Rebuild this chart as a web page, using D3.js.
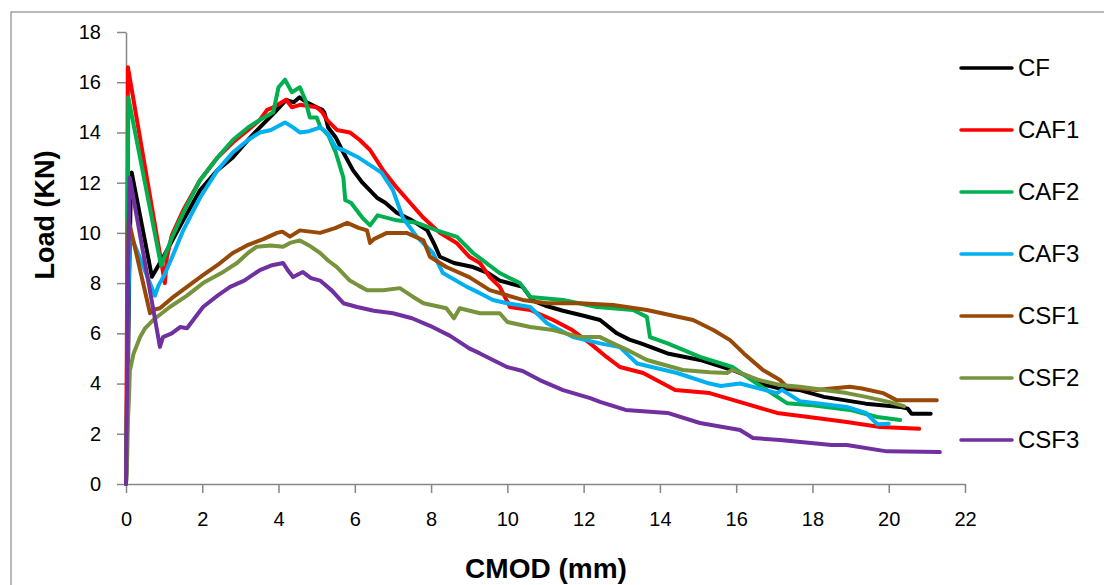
<!DOCTYPE html>
<html>
<head>
<meta charset="utf-8">
<script src="https://cdn.jsdelivr.net/npm/d3@7"></script>
<style>
  body { margin: 0; background: #fff; }
  text { font-family: "Liberation Sans", Arial, sans-serif; }
</style>
</head>
<body>
<svg id="chart" width="1104" height="585"></svg>
<script>
// CMOD (mm) vs Load (kN), one array of [cmod, load] per specimen
var cf = [[0,0],[0.04,3],[0.08,8],[0.12,11.2],[0.15,12.4],[0.68,8.25],[0.85,8.7],[1.0,9.1],[1.5,10.5],[1.94,11.7],[2.4,12.5],[2.8,13.0],[3.2,13.7],[3.51,14.2],[3.9,14.8],[4.2,15.3],[4.4,15.2],[4.55,15.4],[4.74,15.2],[5.0,15.0],[5.15,14.9],[5.2,14.8],[5.3,14.2],[5.5,13.8],[5.7,13.2],[5.95,12.5],[6.2,12.0],[6.58,11.4],[6.8,11.2],[7.1,10.8],[7.5,10.5],[7.9,10.1],[8.1,9.5],[8.23,9.05],[8.6,8.8],[9.1,8.64],[9.5,8.4],[9.8,8.1],[10.4,7.85],[10.67,7.3],[11.0,7.1],[11.46,6.9],[12.0,6.7],[12.43,6.53],[12.87,6.0],[13.2,5.75],[13.5,5.6],[14.2,5.2],[15.05,4.94],[15.9,4.54],[16.3,4.3],[16.6,4.0],[17.15,3.8],[17.67,3.74],[18.3,3.47],[19.4,3.2],[20.3,3.07],[20.5,3.0],[20.6,2.8],[21.1,2.8]];

var caf1 = [[0,0],[0.02,5],[0.04,12],[0.05,16.6],[1.02,8.0],[1.07,9.0],[1.2,9.9],[1.5,10.9],[1.94,12.1],[2.4,13.0],[2.8,13.6],[3.2,14.1],[3.51,14.5],[3.7,14.9],[3.86,15.0],[4.2,15.3],[4.35,15.0],[4.56,15.1],[5.0,15.0],[5.15,14.8],[5.27,14.5],[5.53,14.1],[5.87,14.0],[6.13,13.7],[6.4,13.3],[6.74,12.5],[7.1,11.8],[7.45,11.2],[7.8,10.6],[8.23,10.0],[8.67,9.6],[9.0,9.05],[9.28,8.8],[9.54,8.24],[9.8,7.85],[10.07,7.05],[10.6,6.93],[11.2,6.53],[11.7,6.13],[12.17,5.6],[12.6,5.06],[12.95,4.66],[13.56,4.42],[14.4,3.74],[15.3,3.62],[16.2,3.22],[17.07,2.83],[17.9,2.67],[18.9,2.47],[19.77,2.27],[20.8,2.2]];

var caf2 = [[0,0],[0.03,4],[0.05,12],[0.06,15.4],[0.92,8.7],[1.0,9.0],[1.2,9.8],[1.5,10.8],[1.94,12.1],[2.4,13.0],[2.8,13.7],[3.2,14.2],[3.51,14.5],[3.86,14.8],[4.0,15.8],[4.17,16.1],[4.35,15.6],[4.56,15.8],[4.7,15.3],[4.82,14.6],[5.0,14.6],[5.1,14.2],[5.3,13.9],[5.5,13.2],[5.7,12.2],[5.75,11.3],[5.9,11.2],[6.2,10.6],[6.4,10.3],[6.6,10.7],[7.1,10.5],[7.63,10.4],[8.15,10.1],[8.68,9.84],[9.1,9.2],[9.8,8.4],[10.33,8.0],[10.6,7.45],[11.46,7.33],[12.35,7.05],[13.3,6.93],[13.66,6.65],[13.74,5.85],[14.2,5.6],[15.05,5.06],[15.9,4.66],[16.54,4.0],[17.33,3.22],[18.0,3.14],[18.98,2.95],[19.3,2.83],[19.7,2.67],[20.3,2.55]];

var caf3 = [[0,0],[0.03,3],[0.06,7],[0.1,10.0],[0.76,7.5],[0.85,7.9],[1.0,8.3],[1.2,9.0],[1.5,10.1],[1.94,11.4],[2.4,12.5],[2.8,13.2],[3.2,13.7],[3.51,14.0],[3.8,14.1],[4.17,14.4],[4.38,14.2],[4.56,14.0],[4.8,14.05],[5.1,14.2],[5.3,13.95],[5.5,13.4],[5.7,13.3],[6.1,13.0],[6.7,12.4],[7.0,11.7],[7.26,10.6],[7.63,9.84],[8.05,9.2],[8.31,8.4],[8.94,7.85],[9.28,7.6],[9.62,7.33],[9.99,7.2],[10.6,7.05],[11.04,6.4],[11.72,5.85],[12.43,5.6],[12.95,5.45],[13.4,4.8],[14.45,4.42],[15.3,4.0],[15.6,3.9],[16.1,4.0],[17.07,3.62],[17.2,3.75],[17.67,3.3],[18.9,3.07],[19.4,2.83],[19.7,2.38],[20.0,2.4]];

var csf1 = [[0,0],[0.03,4],[0.05,9],[0.07,10.5],[0.63,6.8],[0.75,6.95],[0.89,7.0],[1.2,7.4],[1.6,7.85],[2.0,8.3],[2.47,8.8],[2.8,9.2],[3.17,9.5],[3.6,9.75],[3.96,10.0],[4.1,10.05],[4.3,9.85],[4.56,10.1],[5.09,10.0],[5.5,10.2],[5.8,10.4],[6.1,10.2],[6.32,10.1],[6.4,9.6],[6.5,9.75],[6.84,10.0],[7.36,10.0],[7.8,9.7],[7.97,9.05],[8.4,8.64],[9.0,8.24],[9.54,7.72],[10.4,7.33],[11.04,7.2],[11.9,7.2],[12.77,7.13],[13.66,6.93],[14.5,6.65],[14.87,6.53],[15.4,6.13],[15.84,5.73],[16.2,5.2],[16.7,4.54],[17.15,4.14],[17.33,3.87],[18.1,3.74],[18.98,3.87],[19.3,3.8],[19.85,3.62],[20.2,3.34],[21.26,3.34]];

var csf2 = [[0,0],[0.03,1],[0.05,2.5],[0.08,3.5],[0.1,4.5],[0.2,5.2],[0.37,5.85],[0.5,6.2],[0.71,6.53],[1.15,7.05],[1.6,7.5],[2.02,8.0],[2.5,8.4],[2.91,8.8],[3.2,9.2],[3.43,9.45],[3.8,9.5],[4.12,9.45],[4.3,9.6],[4.56,9.7],[4.8,9.5],[5.09,9.2],[5.3,8.9],[5.53,8.64],[5.87,8.1],[6.1,7.9],[6.32,7.72],[6.74,7.72],[7.18,7.8],[7.53,7.45],[7.8,7.2],[8.4,7.0],[8.6,6.6],[8.75,7.0],[9.28,6.8],[9.8,6.8],[10.0,6.45],[10.6,6.25],[11.2,6.13],[11.9,5.85],[12.43,5.85],[12.77,5.6],[13.2,5.3],[13.66,4.94],[14.6,4.54],[15.3,4.45],[15.76,4.42],[15.9,4.55],[16.6,4.14],[17.15,3.94],[17.67,3.87],[18.9,3.62],[19.4,3.47],[20.0,3.27],[20.4,3.1]];

var csf3 = [[0,0],[0.03,4],[0.06,9],[0.1,12.2],[0.89,5.46],[0.97,5.85],[1.2,6.0],[1.42,6.25],[1.6,6.2],[2.02,7.05],[2.4,7.5],[2.73,7.85],[3.1,8.1],[3.51,8.52],[3.8,8.7],[4.12,8.8],[4.25,8.5],[4.38,8.24],[4.64,8.44],[4.85,8.2],[5.09,8.1],[5.4,7.7],[5.7,7.2],[6.06,7.05],[6.5,6.9],[7.0,6.8],[7.5,6.6],[7.97,6.3],[8.5,5.9],[9.0,5.4],[9.28,5.2],[9.99,4.66],[10.4,4.5],[10.85,4.14],[11.46,3.74],[12.17,3.42],[12.43,3.27],[13.1,2.95],[14.2,2.83],[15.05,2.43],[16.1,2.15],[16.44,1.83],[17.15,1.75],[18.5,1.55],[18.9,1.55],[19.95,1.3],[21.34,1.27]];

var seriesNames = ["CF", "CAF1", "CAF2", "CAF3", "CSF1", "CSF2", "CSF3"];
var seriesData = [cf, caf1, caf2, caf3, csf1, csf2, csf3];
var seriesColors = ["#000000", "#ff0000", "#00b050", "#00b0f0", "#984807", "#77933c", "#7030a0"];

var xTicks = [0, 2, 4, 6, 8, 10, 12, 14, 16, 18, 20, 22];
var yTicks = [0, 2, 4, 6, 8, 10, 12, 14, 16, 18];

var svg = d3.select("#chart");

// outer chart frame (its right and bottom edges fall outside the picture)
svg.append("rect")
  .attr("x", 11).attr("y", 12)
  .attr("width", 1120).attr("height", 620)
  .style("fill", "none")
  .style("stroke", "#8c8c8c")
  .style("stroke-width", 1.2);

var x = d3.scaleLinear().domain([0, 22]).range([126, 965]);
var y = d3.scaleLinear().domain([0, 18]).range([484, 32]);

// y axis
var yAxis = svg.append("g")
  .attr("transform", "translate(126,0)")
  .call(d3.axisLeft(y).tickValues(yTicks).tickSize(9).tickSizeOuter(0).tickPadding(16));

// x axis
var xAxis = svg.append("g")
  .attr("transform", "translate(0,484)")
  .call(d3.axisBottom(x).tickValues(xTicks).tickSize(9).tickSizeOuter(0).tickPadding(19));

[xAxis, yAxis].forEach(function(ax) {
  ax.select(".domain").style("stroke", "#868686").style("stroke-width", 1.5);
  ax.selectAll(".tick line").style("stroke", "#868686").style("stroke-width", 1.5);
  ax.selectAll(".tick text")
    .style("font-size", "20px")
    .style("fill", "#000")
    .style("font-family", "'Liberation Sans', Arial, sans-serif");
});

// data lines
var line = d3.line()
  .x(function(d) { return x(d[0]); })
  .y(function(d) { return y(d[1]); });

seriesData.forEach(function(data, i) {
  svg.append("path")
    .datum(data)
    .attr("d", line)
    .style("fill", "none")
    .style("stroke", seriesColors[i])
    .style("stroke-width", 4)
    .style("stroke-linejoin", "round")
    .style("stroke-linecap", "round");
});

// axis titles
svg.append("text")
  .attr("transform", "translate(45,215) rotate(-90)")
  .attr("text-anchor", "middle")
  .attr("dy", "0.35em")
  .style("font-size", "27px")
  .style("font-weight", "bold")
  .text("Load (KN)");

svg.append("text")
  .attr("x", 546).attr("y", 568)
  .attr("text-anchor", "middle")
  .attr("dy", "0.35em")
  .style("font-size", "28px")
  .style("font-weight", "bold")
  .text("CMOD (mm)");

// legend
var legend = svg.append("g");
seriesNames.forEach(function(name, i) {
  var ly = 68 + i * 62;
  legend.append("line")
    .attr("x1", 961).attr("x2", 1012)
    .attr("y1", ly).attr("y2", ly)
    .style("stroke", seriesColors[i])
    .style("stroke-width", 3.5)
    .style("stroke-linecap", "round");
  legend.append("text")
    .attr("x", 1018).attr("y", ly)
    .attr("dy", "0.35em")
    .style("font-size", "24px")
    .text(name);
});
</script>
</body>
</html>
